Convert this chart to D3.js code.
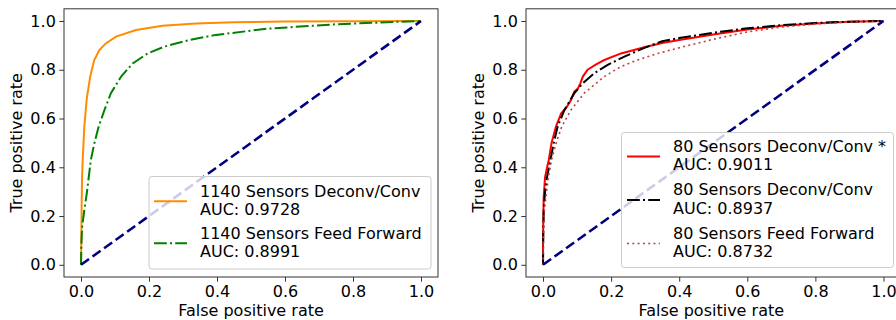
<!DOCTYPE html>
<html>
<head>
<meta charset="utf-8">
<script src="https://cdn.jsdelivr.net/npm/d3@7"></script>
<style>
  body { margin: 0; background: #fff; }
  text { font-family: "DejaVu Sans", sans-serif; fill: #000; }
</style>
</head>
<body>
<div id="chart"></div>
<script>
// ROC points, [false positive rate, true positive rate]
var roc1140Deconv = [[0,0],[0.001,0.1],[0.002,0.25],[0.003,0.35],[0.005,0.43],[0.0098,0.567],[0.017,0.683],
  [0.027,0.772],[0.039,0.84],[0.054,0.881],[0.073,0.908],[0.103,0.936],[0.162,0.963],[0.24,0.98],
  [0.338,0.99],[0.45,0.995],[0.6,0.998],[0.8,0.999],[1,1]];
var roc1140FF = [[0,0],[0.001,0.08],[0.003,0.15],[0.0098,0.225],[0.017,0.293],[0.029,0.43],[0.039,0.497],
  [0.052,0.567],[0.069,0.635],[0.088,0.704],[0.118,0.772],[0.152,0.826],[0.196,0.867],[0.245,0.895],
  [0.319,0.922],[0.397,0.943],[0.546,0.968],[0.742,0.986],[0.938,0.997],[1,1]];
var roc80DeconvStar = [[0,0],[0,0.1],[0.001,0.2],[0.002,0.28],[0.006,0.36],[0.012,0.4],[0.017,0.43],
  [0.025,0.5],[0.038,0.567],[0.053,0.62],[0.07,0.648],[0.082,0.676],[0.092,0.71],[0.102,0.722],
  [0.11,0.745],[0.117,0.772],[0.131,0.8],[0.156,0.822],[0.18,0.84],[0.229,0.867],[0.3,0.893],
  [0.35,0.91],[0.4,0.922],[0.5,0.945],[0.6,0.965],[0.7,0.98],[0.8,0.99],[0.9,0.997],[1,1]];
var roc80Deconv = [[0,0],[0.001,0.15],[0.002,0.225],[0.006,0.3],[0.012,0.361],[0.022,0.43],[0.031,0.497],
  [0.043,0.567],[0.063,0.635],[0.092,0.704],[0.117,0.745],[0.151,0.786],[0.19,0.82],[0.239,0.854],
  [0.298,0.89],[0.35,0.917],[0.4,0.93],[0.5,0.952],[0.6,0.97],[0.7,0.983],[0.8,0.992],[0.9,0.997],[1,1]];
var roc80FF = [[0,0],[0.001,0.12],[0.004,0.225],[0.016,0.361],[0.025,0.43],[0.038,0.497],[0.055,0.567],
  [0.082,0.635],[0.121,0.704],[0.18,0.772],[0.229,0.813],[0.278,0.84],[0.337,0.867],[0.4,0.89],
  [0.5,0.925],[0.6,0.955],[0.7,0.975],[0.8,0.988],[0.9,0.996],[1,1]];
var chance = [[0,0],[1,1]];

var leftLabels = ["1140 Sensors Deconv/Conv", "1140 Sensors Feed Forward"];
var leftAuc = ["AUC: 0.9728", "AUC: 0.8991"];
var rightLabels = ["80 Sensors Deconv/Conv *", "80 Sensors Deconv/Conv", "80 Sensors Feed Forward"];
var rightAuc = ["AUC: 0.9011", "AUC: 0.8937", "AUC: 0.8732"];
var tickVals = [0, 0.2, 0.4, 0.6, 0.8, 1.0];

var svg = d3.select("#chart").append("svg")
  .attr("width", 896)
  .attr("height", 320);

var panels = [
  {x0: 64, x1: 438,
   series: [
     {data: roc1140Deconv, color: "darkorange", dash: null, w: 2},
     {data: roc1140FF, color: "green", dash: "12.8,3.2,2,3.2", w: 2}],
   labels: leftLabels, auc: leftAuc,
   legend: {x: 149, y: 176.5, w: 282, h: 92.5, hx: 154, tx: 200, first: 196.5, step: 42}},
  {x0: 526, x1: 900.5,
   series: [
     {data: roc80DeconvStar, color: "red", dash: null, w: 2},
     {data: roc80Deconv, color: "black", dash: "12.8,3.2,2,3.2", w: 2},
     {data: roc80FF, color: "#c43c3c", dash: "2,3.3", w: 1.6}],
   labels: rightLabels, auc: rightAuc,
   legend: {x: 621.5, y: 132.5, w: 272, h: 135, hx: 627, tx: 673, first: 151.7, step: 43.5}}
];

panels.forEach(function(p) {
  var x = d3.scaleLinear().domain([-0.05, 1.05]).range([p.x0, p.x1]);
  var y = d3.scaleLinear().domain([-0.05, 1.05]).range([277, 8.8]);
  var g = svg.append("g");

  var line = d3.line()
    .x(function(d) { return x(d[0]); })
    .y(function(d) { return y(d[1]); });

  p.series.forEach(function(s) {
    g.append("path")
      .datum(s.data)
      .attr("d", line)
      .attr("fill", "none")
      .attr("stroke", s.color)
      .attr("stroke-width", s.w)
      .attr("stroke-dasharray", s.dash);
  });

  g.append("path")
    .datum(chance)
    .attr("d", line)
    .attr("fill", "none")
    .attr("stroke", "navy")
    .attr("stroke-width", 2.6)
    .attr("stroke-dasharray", "9.9,4.3");

  // frame
  g.append("rect")
    .attr("x", x(-0.05)).attr("y", y(1.05))
    .attr("width", x(1.05) - x(-0.05))
    .attr("height", y(-0.05) - y(1.05))
    .attr("fill", "none")
    .attr("stroke", "#333")
    .attr("stroke-width", 1);

  var xa = g.append("g")
    .attr("transform", "translate(0," + y(-0.05) + ")")
    .call(d3.axisBottom(x).tickValues(tickVals).tickFormat(d3.format(".1f")).tickSize(4.7).tickPadding(4));
  var ya = g.append("g")
    .attr("transform", "translate(" + x(-0.05) + ",0)")
    .call(d3.axisLeft(y).tickValues(tickVals).tickFormat(d3.format(".1f")).tickSize(4.7).tickPadding(3.5));
  [xa, ya].forEach(function(a) {
    a.select(".domain").remove();
    a.selectAll("line").attr("stroke", "#333");
    a.selectAll("text").style("font-size", "16px").attr("fill", "#000")
      .style("font-family", "'DejaVu Sans', sans-serif");
  });

  g.append("text")
    .attr("x", (x(-0.05) + x(1.05)) / 2 - (p.x0 > 400 ? 2 : 0))
    .attr("y", 315.5)
    .attr("text-anchor", "middle")
    .style("font-size", "16px")
    .text("False positive rate");

  g.append("text")
    .attr("transform", "translate(" + (p.x0 - 42) + "," + ((y(-0.05) + y(1.05)) / 2) + ") rotate(-90)")
    .attr("text-anchor", "middle")
    .style("font-size", "16px")
    .text("True positive rate");

  // legend
  var L = p.legend;
  g.append("rect")
    .attr("x", L.x).attr("y", L.y)
    .attr("width", L.w).attr("height", L.h)
    .attr("rx", 3)
    .attr("fill", "white").attr("fill-opacity", 0.8)
    .attr("stroke", "#cccccc").attr("stroke-width", 1);

  p.series.forEach(function(s, i) {
    var by = L.first + i * L.step;
    g.append("line")
      .attr("x1", L.hx).attr("x2", L.hx + 33)
      .attr("y1", by + 4.8).attr("y2", by + 4.8)
      .attr("stroke", s.color)
      .attr("stroke-width", s.w)
      .attr("stroke-dasharray", s.dash);
    g.append("text")
      .attr("x", L.tx).attr("y", by)
      .style("font-size", "16px")
      .text(p.labels[i]);
    g.append("text")
      .attr("x", L.tx).attr("y", by + 18.5)
      .style("font-size", "16px")
      .text(p.auc[i]);
  });
});
</script>
</body>
</html>
